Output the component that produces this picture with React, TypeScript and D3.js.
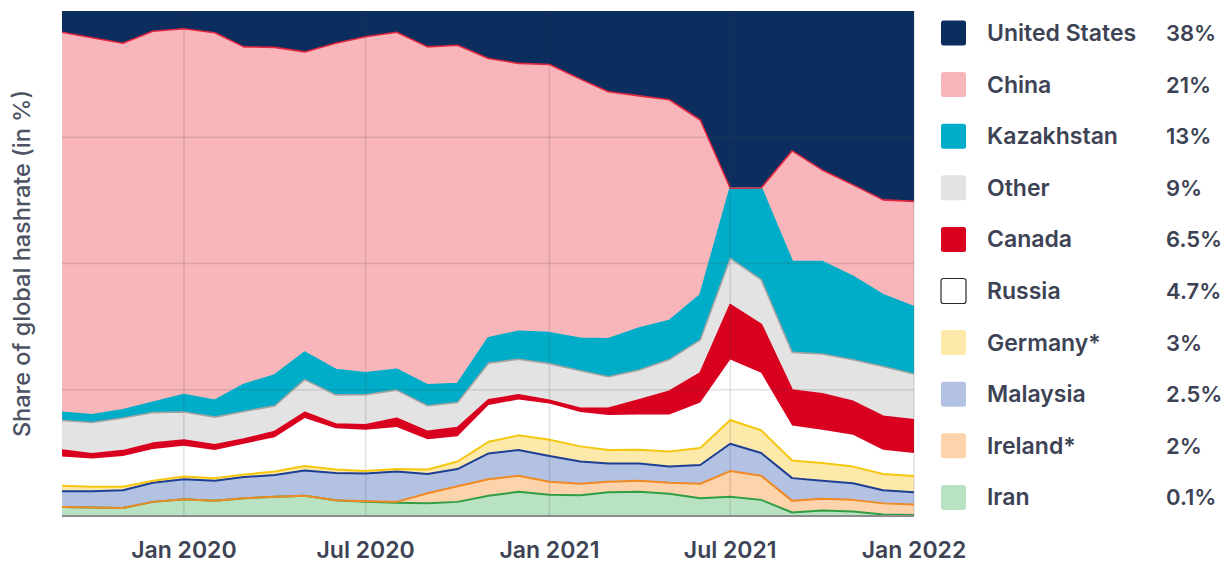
import React from "react";
import * as d3 from "d3";

const months = [
  "2019-09","2019-10","2019-11","2019-12","2020-01","2020-02","2020-03","2020-04","2020-05","2020-06",
  "2020-07","2020-08","2020-09","2020-10","2020-11","2020-12","2021-01","2021-02","2021-03","2021-04",
  "2021-05","2021-06","2021-07","2021-08","2021-09","2021-10","2021-11","2021-12","2022-01",
];

const iran =       [1.8,1.7,1.6,2.8,3.3,3.0,3.5,3.8,4.0,3.1,2.8,2.6,2.5,2.8,4.0,4.8,4.2,4.1,4.7,4.8,4.4,3.5,3.8,3.2,0.7,1.1,0.9,0.3,0.2];
const ireland =    [0,0,0,0,0,0,0,0,0,0,0.1,0.2,2.0,3.1,3.3,3.2,2.6,2.3,2.1,2.2,2.2,2.9,5.1,4.8,2.3,2.3,2.3,2.2,2.1];
const malaysia =   [3.1,3.2,3.5,3.8,4.0,4.0,4.2,4.3,5.0,5.4,5.5,6.0,3.8,3.4,5.1,5.1,5.1,4.4,3.6,3.4,3.2,3.7,5.4,4.5,4.5,3.6,3.3,2.6,2.4];
const germany =    [1.1,0.9,0.7,0.4,0.5,0.5,0.5,0.7,0.9,0.7,0.5,0.5,0.9,1.5,2.3,2.9,3.2,3.0,2.7,2.7,3.0,3.4,4.7,4.5,3.5,3.5,3.3,3.2,3.2];
const russia =     [5.8,5.6,6.1,6.3,6.1,5.6,6.1,6.8,9.5,8.2,8.2,8.3,6.0,5.0,7.3,7.1,7.2,6.8,6.9,7.0,7.3,9.0,12.0,11.4,6.9,6.6,6.3,4.8,4.6];
const canada =     [1.2,0.9,1.0,1.1,1.1,1.0,0.9,1.1,1.1,0.8,0.9,1.7,1.5,1.7,1.0,0.9,0.6,0.7,1.3,2.9,4.6,5.8,10.8,9.6,7.0,7.1,6.6,6.6,6.5];
const other =      [5.9,6.2,6.5,6.1,5.6,5.5,5.5,5.1,6.5,5.8,6.0,5.6,5.1,5.0,7.3,7.1,7.3,7.5,6.3,5.9,6.3,6.6,9.2,8.9,7.5,7.9,8.3,9.9,9.1];
const kazakhstan = [1.6,1.5,1.6,2.0,3.4,3.3,5.3,6.1,5.4,5.0,4.3,4.1,4.1,3.7,5.0,5.5,6.1,6.4,7.5,8.3,7.7,8.9,13.9,18.2,18.0,18.3,16.5,14.2,13.3];
const china =      [75.3,74.7,72.6,73.6,72.5,72.9,66.9,64.9,59.5,64.7,66.6,66.7,66.9,67.1,55.4,53.2,53.2,51.4,49.0,46.0,43.8,34.7,0,0,21.9,18.2,18.2,18.8,20.9];
const unitedStates=[4.2,5.3,6.4,4.0,3.5,4.3,7.1,7.2,8.1,6.4,5.1,4.2,7.1,6.8,9.4,10.4,10.6,13.5,16.0,16.8,17.6,21.6,35.1,35.1,27.7,31.5,34.5,37.4,37.7];

// stack order bottom -> top
const seriesKeys = ["Iran","Ireland*","Malaysia","Germany*","Russia","Canada","Other","Kazakhstan","China","United States"];
const seriesValues = [iran, ireland, malaysia, germany, russia, canada, other, kazakhstan, china, unitedStates];
const legendShares = ["0.1%","2%","2.5%","3%","4.7%","6.5%","9%","13%","21%","38%"];

const xTicks = ["2020-01","2020-07","2021-01","2021-07","2022-01"];
const yGrid = [0.25, 0.5, 0.75];

const fills: Record<string, string> = {
  "Iran": "#b9e2c3",
  "Ireland*": "#fdd3ab",
  "Malaysia": "#b3c2e3",
  "Germany*": "#fde9aa",
  "Russia": "#ffffff",
  "Canada": "#d9001f",
  "Other": "#e3e3e3",
  "Kazakhstan": "#00adc8",
  "China": "#f8b6ba",
  "United States": "#0c2e5e",
};
const strokes: Record<string, string | null> = {
  "Iran": "#2f9e44",
  "Ireland*": "#f08a24",
  "Malaysia": "#1d3f94",
  "Germany*": "#f5c710",
  "Russia": null,
  "Canada": "#d9001f",
  "Other": "#a3a3a3",
  "Kazakhstan": "#00adc8",
  "China": "#e3263f",
  "United States": null,
};

const W = 1230, H = 563;
const plot = { left: 62, right: 914, top: 11, bottom: 516 };
const parse = d3.timeParse("%Y-%m");
const fmt = d3.timeFormat("%b %Y");

export default function App() {
  const rows = months.map((m, i) => {
    const r: any = { date: parse(m) };
    seriesKeys.forEach((k, j) => (r[k] = seriesValues[j][i]));
    return r;
  });
  const stack = d3.stack<any>().keys(seriesKeys).offset(d3.stackOffsetExpand).order(d3.stackOrderNone);
  const stacked = stack(rows);

  const x = d3.scaleTime().domain([parse("2019-09")!, parse("2022-01")!]).range([plot.left, plot.right]);
  const y = d3.scaleLinear().domain([0, 1]).range([plot.bottom, plot.top]);

  const area = d3.area<any>().x((d) => x(d.data.date)).y0((d) => y(d[0])).y1((d) => y(d[1])).curve(d3.curveLinear);
  const line = d3.line<any>().x((d) => x(d.data.date)).y((d) => y(d[1])).curve(d3.curveLinear);

  const legendOrder = [...seriesKeys].reverse();
  const textColor = "#3d4354";

  return (
    <svg width={W} height={H} style={{ position: "absolute", left: 0, top: 0, fontFamily: "Inter, 'Noto Sans', sans-serif" }}>
      <rect x={0} y={0} width={W} height={H} fill="#ffffff" />
      {stacked.map((s) => (
        <path key={s.key} d={area(s) || ""} fill={fills[s.key]} />
      ))}
      {/* grid */}
      {yGrid.map((g) => (
        <line key={g} x1={plot.left} x2={plot.right} y1={y(g)} y2={y(g)} stroke="rgba(70,70,70,0.16)" strokeWidth={1.5} />
      ))}
      {xTicks.map((t) => (
        <line key={t} x1={x(parse(t)!)} x2={x(parse(t)!)} y1={plot.top} y2={plot.bottom} stroke="rgba(70,70,70,0.16)" strokeWidth={1.5} />
      ))}
      {stacked.map((s) =>
        strokes[s.key] ? (
          <path key={"l" + s.key} d={line(s) || ""} fill="none" stroke={strokes[s.key]!} strokeWidth={s.key === "China" || s.key === "Other" ? 1.6 : 2} strokeLinejoin="round" />
        ) : null
      )}
      <line x1={plot.left} x2={plot.right} y1={plot.bottom} y2={plot.bottom} stroke="#8c8c8c" strokeWidth={2} />
      {/* x tick labels */}
      {xTicks.map((t) => (
        <text key={"t" + t} x={x(parse(t)!)} y={558} textAnchor="middle" fontSize={23} fontWeight={600} fill={textColor}>
          {fmt(parse(t)!)}
        </text>
      ))}
      {/* y title */}
      <text transform={`translate(30,${(plot.top + plot.bottom) / 2}) rotate(-90)`} textAnchor="middle" fontSize={23.5} fontWeight={500} fill="#4e5363">
        Share of global hashrate (in %)
      </text>
      {/* legend */}
      {legendOrder.map((k, i) => {
        const cy = 33 + i * 51.6;
        const share = legendShares[seriesKeys.indexOf(k)];
        return (
          <g key={"lg" + k}>
            <rect x={941} y={cy - 12.5} width={25} height={25} rx={2.5} fill={fills[k]} stroke={k === "Russia" ? "#2b2b2b" : "none"} strokeWidth={1.2} />
            <text x={987} y={cy + 8} fontSize={23} fontWeight={600} fill={textColor}>{k}</text>
            <text x={1166} y={cy + 8} fontSize={22} fontWeight={600} fill={textColor}>{share}</text>
          </g>
        );
      })}
    </svg>
  );
}
